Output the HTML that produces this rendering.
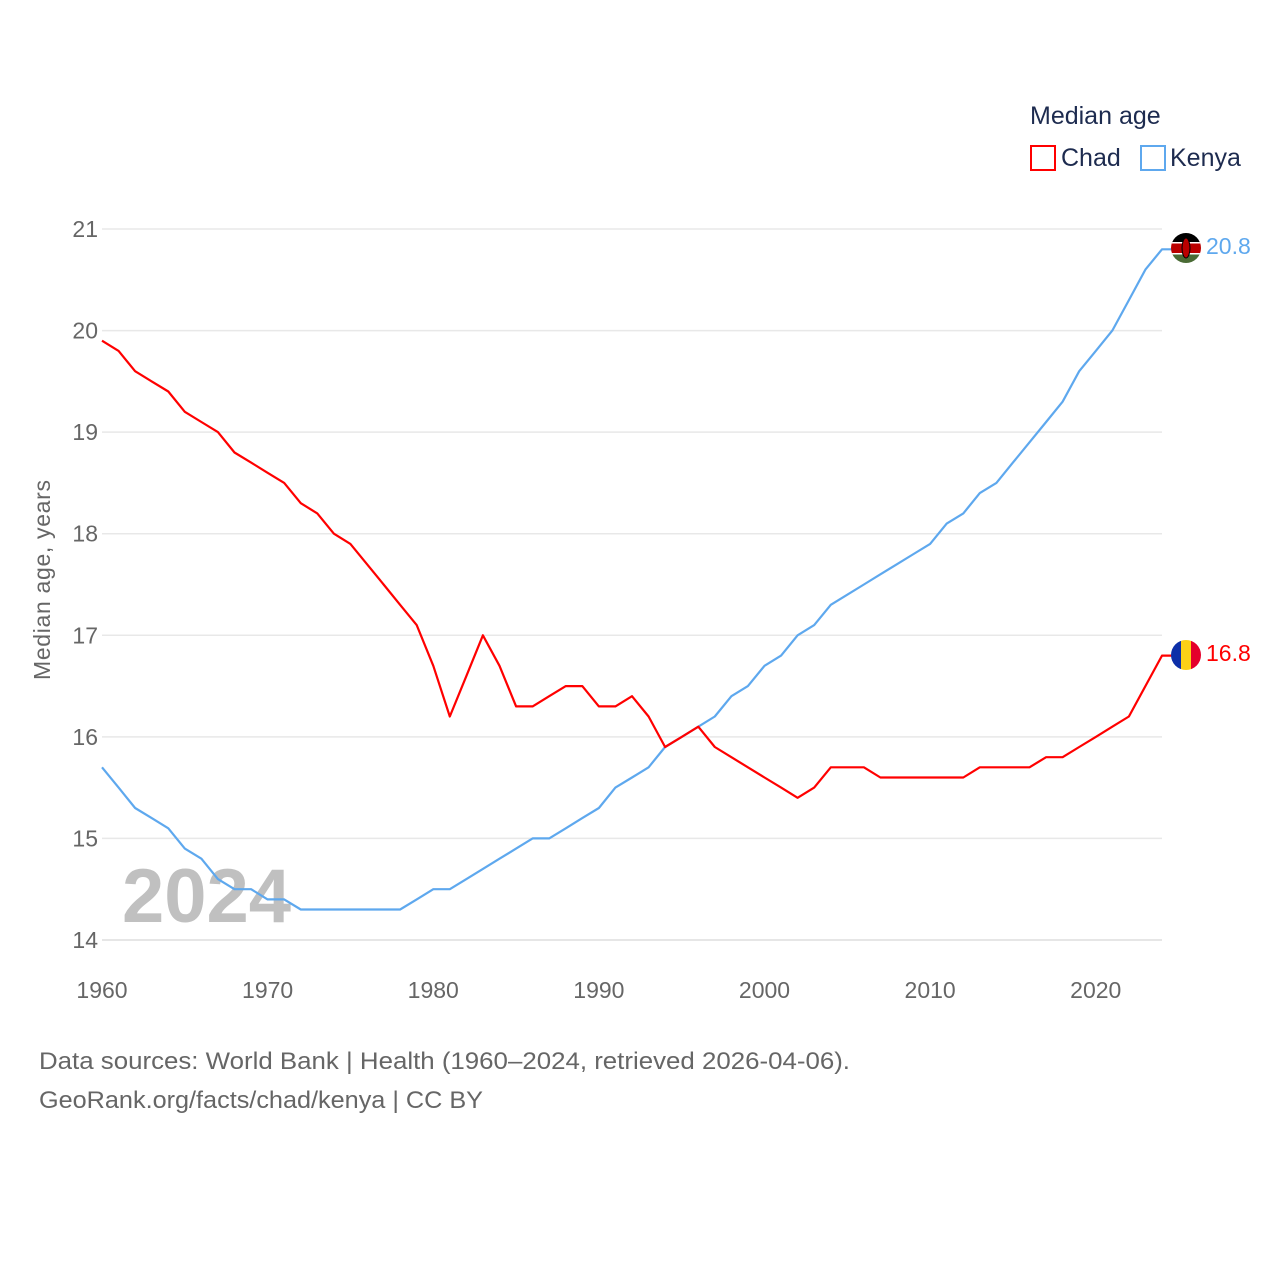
<!DOCTYPE html>
<html><head><meta charset="utf-8">
<style>
body{margin:0;background:#fff;width:1280px;height:1280px;overflow:hidden;font-family:"Liberation Sans",sans-serif}
svg text{font-family:"Liberation Sans",sans-serif}
</style></head>
<body>
<svg id="chart" width="1280" height="1280" xmlns="http://www.w3.org/2000/svg">
<g id="grid"></g>
<g id="yticks"></g>
<g id="xticks"></g>
<text x="122" y="922" font-size="76" font-weight="bold" fill="#c0c0c0">2024</text>
<g id="series"></g>
<text transform="translate(50,580) rotate(-90)" text-anchor="middle" font-size="23" fill="#666" textLength="200">Median age, years</text>
<g>
<text x="1030" y="124" font-size="25" fill="#1d2b4f">Median age</text>
<g><rect x="1031" y="146" width="24" height="24" fill="none" stroke="#ff0000" stroke-width="2"/><text x="1061" y="166" font-size="25" fill="#1d2b4f">Chad</text></g>
<g><rect x="1141" y="146" width="24" height="24" fill="none" stroke="#5ea8ee" stroke-width="2"/><text x="1170" y="166" font-size="25" fill="#1d2b4f">Kenya</text></g>
</g>
<g>
<clipPath id="ck"><circle cx="1186" cy="248" r="15"/></clipPath>
<g clip-path="url(#ck)"><rect x="1170" y="232" width="32" height="11" fill="#000"/><rect x="1170" y="243" width="32" height="11" fill="#b00"/><rect x="1170" y="253" width="32" height="11" fill="#4a6b35"/><rect x="1170" y="242" width="32" height="1.5" fill="#fff"/><rect x="1170" y="253" width="32" height="1.5" fill="#fff"/><ellipse cx="1186" cy="248" rx="4" ry="10" fill="#b00" stroke="#000"/></g>
</g>
<g>
<clipPath id="cc"><circle cx="1186" cy="655" r="15"/></clipPath>
<g clip-path="url(#cc)"><rect x="1170" y="639" width="11" height="32" fill="#0d2fa8"/><rect x="1181" y="639" width="10" height="32" fill="#fbd116"/><rect x="1191" y="639" width="12" height="32" fill="#e4002b"/></g>
</g>
<text x="1206" y="254" font-size="23" fill="#5ea8ee">20.8</text>
<text x="1206" y="661" font-size="23" fill="#ff0000">16.8</text>
<text x="39" y="1069" font-size="24" fill="#666" textLength="811" lengthAdjust="spacingAndGlyphs">Data sources: World Bank | Health (1960–2024, retrieved 2026-04-06).</text>
<text x="39" y="1108" font-size="24" fill="#666" textLength="444" lengthAdjust="spacingAndGlyphs">GeoRank.org/facts/chad/kenya | CC BY</text>
</svg>
<script>
const years=[];for(let y=1960;y<=2024;y++)years.push(y);
const chad=[19.9,19.8,19.6,19.5,19.4,19.2,19.1,19.0,18.8,18.7,18.6,18.5,18.3,18.2,18.0,17.9,17.7,17.5,17.3,17.1,16.7,16.2,16.6,17.0,16.7,16.3,16.3,16.4,16.5,16.5,16.3,16.3,16.4,16.2,15.9,16.0,16.1,15.9,15.8,15.7,15.6,15.5,15.4,15.5,15.7,15.7,15.7,15.6,15.6,15.6,15.6,15.6,15.6,15.7,15.7,15.7,15.7,15.8,15.8,15.9,16.0,16.1,16.2,16.5,16.8];
const kenya=[15.7,15.5,15.3,15.2,15.1,14.9,14.8,14.6,14.5,14.5,14.4,14.4,14.3,14.3,14.3,14.3,14.3,14.3,14.3,14.4,14.5,14.5,14.6,14.7,14.8,14.9,15.0,15.0,15.1,15.2,15.3,15.5,15.6,15.7,15.9,16.0,16.1,16.2,16.4,16.5,16.7,16.8,17.0,17.1,17.3,17.4,17.5,17.6,17.7,17.8,17.9,18.1,18.2,18.4,18.5,18.7,18.9,19.1,19.3,19.6,19.8,20.0,20.3,20.6,20.8];
const yTicks=[14,15,16,17,18,19,20,21];
const xTicks=[1960,1970,1980,1990,2000,2010,2020];
const NS="http://www.w3.org/2000/svg";
const x=v=>102+(v-1960)*(1162-102)/64;
const y=v=>940-(v-14)*(940-229)/7;
function mk(tag,attrs,parent){const e=document.createElementNS(NS,tag);for(const k in attrs)e.setAttribute(k,attrs[k]);parent.appendChild(e);return e;}
const grid=document.getElementById('grid'),yt=document.getElementById('yticks'),xt=document.getElementById('xticks'),ser=document.getElementById('series');
yTicks.forEach(t=>{
  const l=mk('line',{x1:102,x2:1162,y1:y(t),y2:y(t),stroke:t===14?'#ddd':'#e8e8e8','stroke-width':1.5},grid);
  
  
  const tx=mk('text',{x:98,y:y(t)+8,'text-anchor':'end','font-size':23,fill:'#666'},yt);
  tx.textContent=t;
  
  
});
xTicks.forEach(t=>{
  const tx=mk('text',{x:x(t),y:998,'text-anchor':'middle','font-size':23,fill:'#666'},xt);
  tx.textContent=t;
  
  
});
function line(data,color,name){
  let d=data.map((v,i)=>(i?'L':'M')+x(years[i]).toFixed(1)+','+y(v).toFixed(1)).join('');
  d+='L1172,'+y(data[data.length-1]).toFixed(1);
  const p=mk('path',{d:d,fill:'none',stroke:color,'stroke-width':2.2,'stroke-linejoin':'round'},ser);
  
  
}
line(kenya,'#5ea8ee','kenya-line');
line(chad,'#ff0000','chad-line');
</script>
</body></html>
